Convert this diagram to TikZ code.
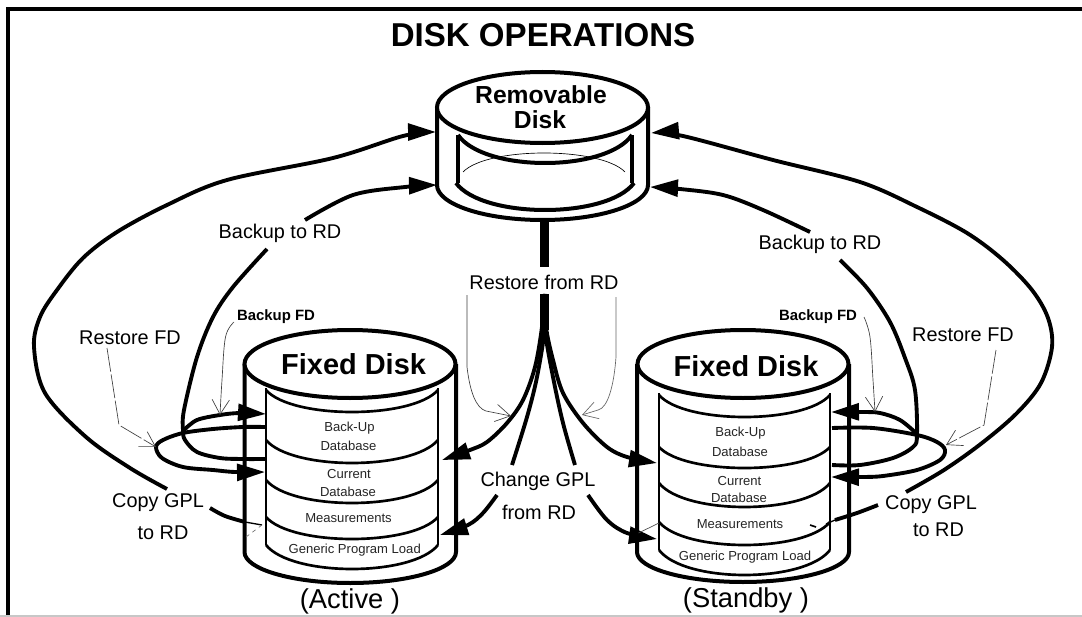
\documentclass[tikz,border=0pt]{standalone}
\usepackage{fontspec}
\setmainfont{Liberation Sans}
\usetikzlibrary{arrows.meta}
\newcommand\dskarc[4]{(#1,#3) .. controls ({#1+.15*(#2-#1)},{#3+1.333*#4}) and ({#2-.15*(#2-#1)},{#3+1.333*#4}) .. (#2,#3)}
\newcommand\dskbot[4]{(#1,#3) .. controls (#1,{#3+.55*#4}) and ({(#1+#2)/2-.275*(#2-#1)},{#3+#4}) .. ({(#1+#2)/2},{#3+#4}) .. controls ({(#1+#2)/2+.275*(#2-#1)},{#3+#4}) and (#2,{#3+.55*#4}) .. (#2,#3)}
\tikzset{
  x=0.75pt,y=-0.75pt,
  disk/.style={line width=3pt,draw=black},
  inner/.style={line width=2pt,draw=black},
  flow/.style={line width=2.9pt,draw=black,line cap=butt},
  head/.style={flow,-{Triangle[length=21pt,width=12.5pt]}},
  thinarr/.style={line width=0.5pt,draw=black!75,-{Straight Barb[length=11pt,width=13pt,line width=0.5pt]}},
  dashthin/.style={thinarr,dash pattern=on 18pt off 2pt},
  lab/.style={inner sep=0pt,font=\fontsize{14.9}{16}\selectfont},
  small/.style={inner sep=0pt,text=black!85,font=\fontsize{9.8}{11}\selectfont},
  boldlab/.style={inner sep=0pt,font=\fontsize{11.2}{13}\selectfont\bfseries},
  fixedlab/.style={inner sep=0pt,font=\fontsize{21.7}{24}\selectfont\bfseries},
  rdlab/.style={inner sep=0pt,font=\fontsize{18.5}{20}\selectfont\bfseries},
  statelab/.style={inner sep=0pt,font=\fontsize{20.5}{23}\selectfont},
}
\begin{document}
\begin{tikzpicture}
\useasboundingbox (0,0) rectangle (1082,617);
\fill[white] (0,0) rectangle (1082,617);
% frame
\draw[line width=1.5pt,draw=black!22] (0,616) -- (1082,616);
\draw[line width=3pt] (1082,9) -- (6.5,9);
\draw[line width=3pt] (8,7.5) -- (8,615);
\node[inner sep=0pt,font=\fontsize{24.8}{28}\selectfont\bfseries] (title) at (543,35) {DISK OPERATIONS};

% removable disk
\draw[disk] (437,107) -- (437,185) \dskbot{437}{648}{185}{35} -- (648,107);
\draw[line width=0.5pt] \dskarc{463}{625}{172}{-19};
\draw[line width=3pt] (458,135) -- (458,183);
\draw[line width=3pt] (632,135) -- (632,183);
\draw[line width=3pt] \dskarc{458}{632}{135}{28};
\draw[line width=3pt] \dskarc{456}{634}{183}{27};
\draw[disk,fill=white] (542.5,107.5) ellipse [x radius=105.5,y radius=35.5];
\node[rdlab] (rdA) at (541,95) {Removable};
\node[rdlab] (rdB) at (540,120) {Disk};
\coordinate (rdStemTop) at (544.5,220);
\coordinate (rdStemEnd) at (544.5,267);
\coordinate (fan) at (544.8,294);
\coordinate (fanB) at (544.8,330);
\draw[line width=7pt] (rdStemTop) -- (rdStemEnd);
\draw[line width=6.5pt] (fan) -- (fanB);

% fixed disk, active
\draw[disk] (244.5,364) -- (244.5,552) \dskbot{244.5}{456}{552}{31} -- (456,364);
\draw[inner] (266,388) -- (266,545);
\draw[inner] (438,388) -- (438,545);
\draw[inner] \dskarc{266}{438}{390}{22};
\draw[inner] \dskarc{266}{438}{440}{23};
\draw[inner] \dskarc{266}{438}{480}{23};
\draw[inner] \dskarc{266}{438}{517}{22};
\draw[inner] \dskarc{266}{438}{545}{24};
\draw[disk,fill=white] (350,364) ellipse [x radius=105.5,y radius=34];
\node[fixedlab] (fa) at (353.6,364) {Fixed Disk};
\node[small] (a1) at (349.5,428) {Back-Up};
\node[small] (a2) at (348.5,446) {Database};
\node[small] (a3) at (349,474) {Current};
\node[small] (a4) at (348,492) {Database};
\node[small] (a5) at (348.5,518) {Measurements};
\node[small] (a6) at (354.7,550) {Generic Program Load};
\node[statelab] (active) at (350,601) {(Active )};

% fixed disk, standby
\draw[disk] (637,364) -- (637,552) \dskbot{637}{849}{552}{30} -- (849,364);
\draw[inner] (659,393) -- (659,550);
\draw[inner] (830,393) -- (830,550);
\draw[inner] \dskarc{659}{830}{395}{22};
\draw[inner] \dskarc{659}{830}{447}{21};
\draw[inner] \dskarc{659}{830}{483}{24};
\draw[inner] \dskarc{659}{830}{522}{23};
\draw[inner] \dskarc{659}{830}{550}{25};
\draw[disk,fill=white] (743,364) ellipse [x radius=105.5,y radius=34];
\node[fixedlab] (fs) at (746,366) {Fixed Disk};
\node[small] (s1) at (740.5,433) {Back-Up};
\node[small] (s2) at (740,452) {Database};
\node[small] (s3) at (739.5,481) {Current};
\node[small] (s4) at (739,498) {Database};
\node[small] (s5) at (740,524) {Measurements};
\node[small] (s6) at (745,557) {Generic Program Load};
\node[statelab] (standby) at (746,600) {(Standby )};

% labels
\node[lab] (restoreRD) at (544,282) {Restore from RD};
\node[lab] (changeA) at (538,481) {Change GPL};
\node[lab] (changeB) at (539,512) {from RD};
\node[lab] (bkL) at (280,233) {Backup to RD};
\node[lab] (bkR) at (820,244) {Backup to RD};
\node[lab] (rfL) at (130,338) {Restore FD};
\node[lab] (rfR) at (963,335) {Restore FD};
\node[boldlab] (bfL) at (276,317) {Backup FD};
\node[boldlab] (bfR) at (818,317) {Backup FD};
\node[lab] (cpLa) at (158,503) {Copy GPL};
\node[lab] (cpLb) at (163,533) {to RD};
\node[lab] (cpRa) at (931,505) {Copy GPL};
\node[lab] (cpRb) at (938.5,530) {to RD};

% named ends
\coordinate (rdL1) at (436,132);
\coordinate (rdL2) at (437,185);
\coordinate (rdR1) at (651,133);
\coordinate (rdR2) at (650,187);
\coordinate (aBk) at (266,414);
\coordinate (aBkOut) at (265,427);
\coordinate (aCu) at (265,472);
\coordinate (aCuOut) at (265,459);
\coordinate (sBk) at (831,412);
\coordinate (sBkOut) at (832,428);
\coordinate (sCu) at (831,477);
\coordinate (sCuOut) at (832,465);
\coordinate (aU) at (442,460);
\coordinate (aL) at (440,535);
\coordinate (sU) at (657,463);
\coordinate (sL) at (657,539);
\coordinate (loopL) at (184,430);
\coordinate (loopR) at (917,434);

% left connectors
\draw[head] plot[smooth,tension=.55] coordinates {(167,489) (130,468) (86,437) (45,393) (34,347) (40,317) (57,290) (83,258) (117,232) (167,205) (227,180) (333,158) (403,136) (rdL1)};
\draw[flow] plot[smooth,tension=.55] coordinates {(aCuOut) (243,459) (220,458) (197,452) (185,440) (183,430) (184,410) (197,357) (213,317) (233,287) (267,249)};
\draw[head] plot[smooth,tension=.55] coordinates {(305,220) (353,195) (405,187) (rdL2)};
\draw[head] plot[smooth,tension=.55] coordinates {(loopL) (197,420) (220,415) (240,413) (aBk)};
\draw[head] plot[smooth,tension=.55] coordinates {(aBkOut) (243,427) (213,429) (183,433) (163,440) (156,447) (162,458) (183,467) (213,470) (235,472) (aCu)};

% right connectors
\draw[head] plot[smooth,tension=.55] coordinates {(906,492) (944,470) (982,443) (1017,413) (1041,383) (1052,347) (1048,318) (1032,290) (1003,260) (967,233) (917,207) (860,182) (773,160) (683,136) (rdR1)};
\draw[flow] plot[smooth,tension=.55] coordinates {(sCuOut) (860,465) (893,458) (913,447) (917,435) (915,390) (905,358) (890,322) (867,288) (840,260)};
\draw[head] plot[smooth,tension=.55] coordinates {(810,232) (763,210) (723,195) (680,189) (rdR2)};
\draw[head] plot[smooth,tension=.55] coordinates {(loopR) (900,420) (880,413) (862,412) (sBk)};
\draw[head] plot[smooth,tension=.55] coordinates {(sBkOut) (873,428) (917,435) (937,442) (945,450) (940,460) (917,470) (883,476) (862,477) (sCu)};

% centre connectors
\draw[head] plot[smooth,tension=.55] coordinates {(fan) (542,327) (535,367) (523,400) (507,423) (487,442) (470,450) (aU)};
\draw[flow] plot[smooth,tension=.55] coordinates {(fan) (545,327) (537,377) (527,417) (512,465)};
\draw[head] plot[smooth,tension=.55] coordinates {(497,495) (483,513) (468,525) (aL)};
\draw[head] plot[smooth,tension=.55] coordinates {(fan) (546,327) (553,360) (563,393) (583,423) (607,447) (627,457) (sU)};
\draw[flow] plot[smooth,tension=.55] coordinates {(fan) (545,330) (553,377) (563,423) (575,465)};
\draw[head] plot[smooth,tension=.55] coordinates {(588,495) (607,520) (627,533) (sL)};

% copy GPL
\coordinate (cLt) at (262,525);
\coordinate (cLd) at (246,537);
\coordinate (cRt) at (826,524);
\coordinate (cRd) at (659,523);
\draw[flow] plot[smooth,tension=.55] coordinates {(210,508) (225,516) (245,522)};
\draw[line width=1pt] (245,522) -- (cLt);
\draw[line width=0.5pt,draw=black!55,dashed] (cLt) -- (cLd);
\draw[flow] plot[smooth,tension=.55] coordinates {(878,505) (857,513) (835,520)};
\draw[line width=1pt] (835,520) -- (cRt);
\draw[line width=1.2pt] (810,525) -- (816,527);
\draw[line width=0.5pt,draw=black!70] (cRd) -- (638.5,533);

% thin pointers
\draw[dashthin] (107,348) -- (119,425) -- (156,447);
\draw[dashthin] (996,350) -- (984,425) -- (946,445);
\draw[thinarr] plot[smooth,tension=.6] coordinates {(234,322) (225.5,337) (222,380) (220,415)};
\draw[thinarr] plot[smooth,tension=.6] coordinates {(864,317) (870,337) (873,380) (875,412)};
\draw[thinarr] (467,295) -- (467,367) .. controls (470,392) and (476,408) .. (486,411) -- (511,416);
\draw[thinarr,draw=black!60] (616,297) -- (616,357) .. controls (614,385) and (608,408) .. (598,410) -- (582,415);
\end{tikzpicture}
\end{document}
